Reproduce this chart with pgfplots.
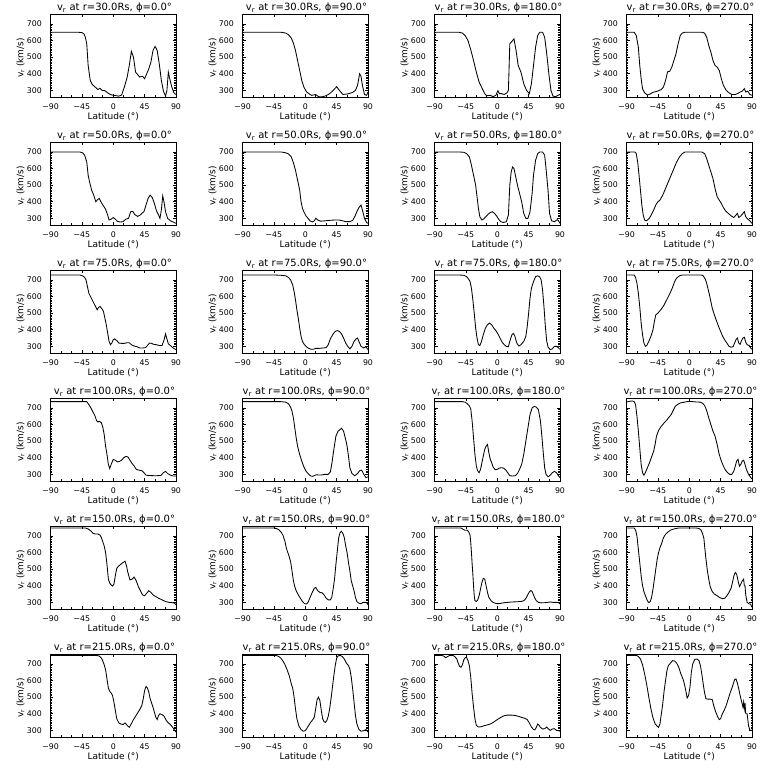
\documentclass[border=0pt]{standalone}
\usepackage{fontspec}
\setmainfont{DejaVu Sans}
\usepackage{pgfplots}
\pgfplotsset{compat=1.18}
\pgfplotsset{panel/.style={
  scale only axis, width=125.5pt, height=83pt, anchor=south west,
  xmin=-90, xmax=90, ymin=260, ymax=760,
  xtick={-90,-45,0,45,90}, xticklabels={−90,−45,0,45,90},
  ytick={300,400,500,600,700},
  minor x tick num=2, minor y tick num=9,
  tick align=inside, major tick length=3pt, minor tick length=1.5pt,
  axis line style={line width=0.8pt}, every tick/.style={black, line width=0.6pt},
  /pgf/number format/assume math mode=true,
  tick label style={font=\fontsize{7.8}{9}\selectfont, inner sep=0pt},
  xticklabel style={yshift=-6.5pt},
  yticklabel style={xshift=-8.5pt},
  xlabel={Latitude (°)}, ylabel={v\textsubscript{r} (km/s)},
  xlabel style={font=\fontsize{9}{10}\selectfont, at={(axis description cs:0.5,0)}, anchor=north, yshift=-15pt, inner sep=0pt},
  ylabel style={font=\fontsize{9}{10}\selectfont, at={(axis description cs:-0.205,0.47)}, anchor=south, inner sep=0pt},
  every axis title shift=0pt,
  title style={font=\fontsize{10}{12}\selectfont, at={(axis description cs:0.51,1)}, anchor=base, yshift=3.2pt, inner sep=0pt},
}}
\newcommand{\panel}[4]{%
\pgfmathsetmacro\px{50.5+192*#1}\pgfmathsetmacro\py{671-128*#2}%
\begin{axis}[panel, at={(\px pt,\py pt)}, title={#3}]
\addplot[black, line width=0.85pt] coordinates {#4};
\end{axis}}
\begin{document}
\begin{tikzpicture}
\path[use as bounding box] (0pt,0pt) rectangle (768pt,768pt);
% row 0 r=30
\panel{0}{0}{v\textsubscript{r} at r=30.0Rs, ϕ=0.0°}{(-90,650)(-50,650)(-45,648)(-42,640)(-40,620)(-38,580)(-36,450)(-33,360)(-30,335)(-26,320)(-22,305)(-19,312)(-16,300)(-12,298)(-8,285)(-4,275)(0,270)(4,268)(8,265)(12,272)(16,320)(20,380)(23,450)(26,535)(29,500)(32,410)(35,395)(38,380)(42,385)(45,370)(48,400)(51,430)(54,470)(57,540)(60,565)(63,540)(66,460)(69,360)(72,295)(75,265)(77,300)(79,410)(81,370)(84,320)(87,285)(90,275)}
\panel{1}{0}{v\textsubscript{r} at r=30.0Rs, ϕ=90.0°}{(-90,650)(-35,650)(-28,645)(-24,635)(-20,615)(-17,585)(-14,540)(-11,480)(-8,420)(-5,360)(-2,320)(2,290)(6,278)(9,270)(12,272)(15,275)(18,265)(21,260)(25,262)(30,268)(35,280)(40,300)(45,322)(49,300)(54,275)(60,278)(64,282)(68,288)(72,300)(75,330)(78,400)(80,385)(82,330)(85,275)(88,270)(90,290)}
\panel{2}{0}{v\textsubscript{r} at r=30.0Rs, ϕ=180.0°}{(-90,650)(-55,650)(-50,645)(-46,630)(-42,600)(-38,545)(-34,480)(-30,410)(-26,350)(-22,315)(-18,280)(-15,268)(-10,270)(-6,262)(-2,270)(1,298)(3,280)(6,280)(10,275)(14,285)(16,300)(18,580)(21,595)(24,610)(27,540)(30,450)(34,410)(38,340)(42,300)(46,280)(49,340)(52,450)(55,560)(58,630)(61,650)(65,650)(68,620)(71,520)(74,400)(77,300)(80,265)(84,262)(87,270)(90,275)}
\panel{3}{0}{v\textsubscript{r} at r=30.0Rs, ϕ=270.0°}{(-90,650)(-79,650)(-76,630)(-73,560)(-71,450)(-69,370)(-67,310)(-64,285)(-60,272)(-56,278)(-52,288)(-48,292)(-44,298)(-40,305)(-37,320)(-34,360)(-31,412)(-28,415)(-25,440)(-22,480)(-19,520)(-16,580)(-13,630)(-10,645)(-6,650)(18,650)(22,645)(25,620)(28,570)(31,530)(34,480)(37,450)(40,440)(43,420)(46,370)(49,330)(53,300)(57,285)(61,275)(66,275)(70,282)(73,290)(76,295)(79,310)(81,290)(84,295)(87,275)(90,270)}
% row 1 r=50
\panel{0}{1}{v\textsubscript{r} at r=50.0Rs, ϕ=0.0°}{(-90,700)(-48,700)(-44,695)(-41,680)(-38,640)(-36,560)(-34,520)(-31,470)(-28,440)(-25,400)(-22,415)(-20,420)(-17,395)(-14,375)(-11,355)(-8,320)(-6,290)(-3,295)(0,305)(3,295)(6,282)(10,278)(14,280)(18,295)(22,300)(25,340)(28,342)(31,322)(35,312)(38,318)(41,330)(44,340)(47,380)(50,420)(53,440)(56,425)(59,390)(62,345)(65,320)(67,300)(69,350)(71,435)(73,395)(75,340)(78,300)(82,285)(86,278)(90,270)}
\panel{1}{1}{v\textsubscript{r} at r=50.0Rs, ϕ=90.0°}{(-90,700)(-35,700)(-28,695)(-24,688)(-20,670)(-17,635)(-14,590)(-11,530)(-8,470)(-6,400)(-4,360)(-2,340)(1,315)(4,300)(7,285)(10,278)(13,285)(15,300)(18,290)(22,283)(28,285)(35,288)(42,290)(48,290)(53,286)(58,280)(64,280)(68,288)(71,310)(74,340)(77,365)(80,380)(82,350)(85,300)(88,275)(90,270)}
\panel{2}{1}{v\textsubscript{r} at r=50.0Rs, ϕ=180.0°}{(-90,700)(-55,700)(-48,698)(-44,690)(-40,670)(-37,620)(-34,560)(-31,500)(-29,430)(-27,360)(-25,310)(-22,290)(-19,298)(-16,312)(-13,325)(-10,335)(-7,340)(-4,330)(-1,315)(2,295)(5,280)(9,275)(13,280)(16,320)(18,500)(20,580)(22,610)(24,600)(26,560)(29,500)(32,450)(35,400)(38,330)(41,300)(44,300)(47,340)(50,450)(52,560)(55,650)(58,690)(61,700)(65,700)(68,680)(70,600)(73,460)(75,330)(78,285)(82,280)(86,292)(88,285)(90,270)}
\panel{3}{1}{v\textsubscript{r} at r=50.0Rs, ϕ=270.0°}{(-90,700)(-78,700)(-76,690)(-74,640)(-72,560)(-70,470)(-68,380)(-66,320)(-64,290)(-62,285)(-60,290)(-57,302)(-54,325)(-51,350)(-48,380)(-45,400)(-42,410)(-38,440)(-34,480)(-30,520)(-26,560)(-22,600)(-18,640)(-14,670)(-10,690)(-6,700)(18,700)(22,690)(25,660)(28,620)(31,580)(34,540)(37,480)(40,430)(43,410)(46,390)(49,365)(52,345)(56,330)(60,315)(64,305)(67,320)(69,330)(71,305)(74,315)(77,330)(79,340)(81,310)(84,295)(87,285)(90,270)}
% row 2 r=75
\panel{0}{2}{v\textsubscript{r} at r=75.0Rs, ϕ=0.0°}{(-90,730)(-48,730)(-44,725)(-41,715)(-39,700)(-37,660)(-35,620)(-32,595)(-29,570)(-26,545)(-23,520)(-21,535)(-19,540)(-16,525)(-14,510)(-12,470)(-10,430)(-8,380)(-6,330)(-4,310)(-2,320)(0,340)(2,345)(5,335)(8,320)(12,318)(16,318)(20,322)(23,322)(26,310)(30,302)(34,298)(38,290)(42,290)(46,292)(49,305)(52,320)(55,318)(58,312)(62,310)(66,305)(70,305)(73,340)(75,375)(77,345)(79,315)(82,305)(86,290)(90,280)}
\panel{1}{2}{v\textsubscript{r} at r=75.0Rs, ϕ=90.0°}{(-90,730)(-45,730)(-35,728)(-28,725)(-24,715)(-21,700)(-18,670)(-16,630)(-14,580)(-12,520)(-10,470)(-8,410)(-6,360)(-4,330)(-2,315)(1,300)(4,290)(8,283)(12,283)(15,288)(20,288)(25,290)(30,292)(33,310)(36,345)(40,375)(43,390)(46,395)(49,390)(52,375)(55,350)(58,320)(61,300)(64,285)(67,300)(70,330)(73,345)(75,350)(77,330)(80,300)(84,290)(87,298)(90,280)}
\panel{2}{2}{v\textsubscript{r} at r=75.0Rs, ϕ=180.0°}{(-90,730)(-55,730)(-48,728)(-44,720)(-41,705)(-39,690)(-37,650)(-35,580)(-33,500)(-31,410)(-29,350)(-27,310)(-25,305)(-23,325)(-20,370)(-17,410)(-14,430)(-11,440)(-8,430)(-5,410)(-2,395)(1,375)(4,350)(7,325)(10,310)(13,300)(16,298)(18,330)(21,370)(23,378)(25,365)(28,320)(31,302)(34,310)(38,330)(41,360)(43,420)(45,500)(47,590)(49,650)(52,690)(55,720)(58,725)(61,718)(63,700)(65,640)(67,540)(69,420)(71,330)(73,295)(76,280)(79,285)(82,300)(85,300)(88,290)(90,282)}
\panel{3}{2}{v\textsubscript{r} at r=75.0Rs, ϕ=270.0°}{(-90,730)(-79,730)(-77,715)(-75,680)(-73,620)(-71,540)(-69,440)(-67,370)(-65,320)(-63,300)(-61,305)(-58,330)(-55,360)(-52,400)(-50,450)(-48,490)(-45,500)(-42,515)(-39,530)(-36,550)(-33,575)(-30,600)(-27,625)(-24,655)(-21,690)(-18,712)(-14,725)(-10,730)(17,730)(20,725)(23,705)(25,680)(27,645)(29,610)(31,570)(33,530)(36,490)(39,455)(42,420)(45,390)(48,360)(51,338)(54,320)(57,300)(60,295)(63,298)(65,320)(67,340)(69,350)(71,320)(73,312)(75,335)(77,350)(79,355)(81,325)(83,310)(86,305)(88,290)(90,282)}
% row 3 r=100
\panel{0}{3}{v\textsubscript{r} at r=100.0Rs, ϕ=0.0°}{(-90,738)(-38,738)(-35,720)(-32,700)(-29,675)(-26,650)(-24,625)(-22,615)(-20,620)(-17,610)(-15,585)(-13,540)(-11,470)(-9,420)(-7,360)(-5,335)(-3,360)(0,390)(3,385)(6,375)(9,378)(12,385)(15,400)(18,408)(21,405)(24,385)(27,365)(30,350)(33,330)(37,325)(41,322)(44,310)(47,295)(52,293)(58,292)(63,292)(68,293)(72,310)(75,318)(78,305)(82,295)(86,290)(90,290)}
\panel{1}{3}{v\textsubscript{r} at r=100.0Rs, ϕ=90.0°}{(-90,738)(-35,738)(-28,735)(-24,725)(-21,705)(-19,680)(-17,640)(-15,580)(-13,520)(-11,470)(-8,420)(-5,380)(-2,345)(1,320)(4,305)(7,292)(10,288)(13,292)(16,298)(19,296)(23,296)(28,300)(33,300)(36,315)(38,360)(41,450)(44,530)(47,560)(50,570)(52,578)(55,560)(58,510)(60,470)(62,410)(64,340)(67,305)(71,292)(75,305)(78,322)(81,325)(84,300)(87,280)(90,285)}
\panel{2}{3}{v\textsubscript{r} at r=100.0Rs, ϕ=180.0°}{(-90,738)(-50,738)(-46,735)(-43,725)(-40,712)(-38,695)(-36,620)(-34,520)(-32,420)(-30,350)(-28,320)(-26,310)(-24,330)(-22,370)(-20,410)(-18,450)(-16,470)(-14,480)(-12,430)(-10,390)(-8,370)(-6,345)(-3,328)(0,330)(3,338)(6,340)(9,338)(12,328)(15,310)(18,292)(22,290)(26,292)(29,305)(32,330)(35,360)(38,420)(41,500)(44,580)(47,660)(50,700)(53,710)(56,705)(59,690)(62,620)(64,530)(66,430)(68,340)(70,300)(73,285)(76,295)(79,310)(82,318)(85,310)(88,290)(90,280)}
\panel{3}{3}{v\textsubscript{r} at r=100.0Rs, ϕ=270.0°}{(-90,735)(-86,740)(-82,742)(-79,738)(-77,720)(-75,650)(-73,560)(-71,460)(-69,360)(-67,310)(-65,295)(-63,310)(-60,340)(-57,370)(-54,405)(-51,440)(-49,480)(-47,530)(-44,565)(-41,585)(-38,600)(-35,615)(-32,628)(-29,645)(-26,660)(-23,685)(-20,710)(-17,720)(-13,730)(-7,735)(-3,738)(0,740)(5,738)(10,736)(16,735)(19,728)(22,715)(24,695)(26,670)(28,640)(31,600)(34,560)(37,530)(40,480)(43,420)(46,380)(49,350)(52,325)(55,310)(58,300)(61,300)(64,320)(66,350)(68,380)(70,390)(72,350)(74,360)(76,380)(78,385)(80,360)(82,330)(85,300)(88,282)(90,272)}
% row 4 r=150
\panel{0}{4}{v\textsubscript{r} at r=150.0Rs, ϕ=0.0°}{(-90,748)(-40,748)(-36,742)(-32,730)(-29,716)(-26,712)(-22,712)(-19,705)(-17,690)(-15,665)(-13,640)(-11,600)(-9,530)(-7,440)(-5,415)(-3,405)(-1,398)(1,410)(3,460)(5,505)(8,520)(11,530)(14,540)(17,548)(19,520)(21,480)(24,435)(27,440)(30,452)(33,430)(36,395)(39,370)(42,345)(45,340)(48,355)(51,370)(54,360)(57,345)(61,335)(65,325)(70,315)(75,305)(80,300)(85,298)(88,295)(90,285)}
\panel{1}{4}{v\textsubscript{r} at r=150.0Rs, ϕ=90.0°}{(-90,748)(-45,748)(-41,744)(-38,738)(-35,725)(-32,705)(-29,665)(-27,625)(-25,600)(-23,575)(-21,545)(-19,490)(-17,430)(-15,395)(-13,370)(-10,345)(-7,325)(-4,305)(-1,292)(2,290)(4,300)(7,330)(10,360)(13,385)(15,390)(18,370)(21,360)(24,358)(27,345)(30,325)(33,315)(36,315)(38,330)(40,380)(42,440)(44,530)(46,610)(48,690)(50,720)(52,728)(54,715)(56,690)(58,640)(60,600)(62,540)(64,490)(66,430)(68,400)(70,370)(72,330)(74,305)(77,295)(80,292)(83,300)(86,300)(89,295)(90,285)}
\panel{2}{4}{v\textsubscript{r} at r=150.0Rs, ϕ=180.0°}{(-90,748)(-52,748)(-49,740)(-46,734)(-43,735)(-41,725)(-39,705)(-38,660)(-37,600)(-36,530)(-35,470)(-34,400)(-33,340)(-32,310)(-30,305)(-28,315)(-26,340)(-24,380)(-22,420)(-20,445)(-18,440)(-16,400)(-14,360)(-12,330)(-9,310)(-6,300)(-3,295)(0,292)(5,294)(10,298)(15,300)(20,302)(25,303)(30,304)(35,306)(38,310)(40,318)(42,330)(44,348)(46,362)(48,372)(50,365)(52,345)(54,325)(56,310)(59,300)(63,297)(68,298)(72,300)(76,302)(80,300)(84,300)(88,298)(90,290)}
\panel{3}{4}{v\textsubscript{r} at r=150.0Rs, ϕ=270.0°}{(-90,748)(-79,748)(-77,735)(-75,700)(-73,620)(-71,540)(-69,460)(-67,400)(-65,365)(-62,330)(-60,310)(-58,298)(-56,305)(-54,330)(-52,380)(-50,440)(-48,500)(-46,560)(-44,600)(-42,630)(-40,650)(-37,690)(-34,710)(-31,722)(-27,735)(-22,742)(-15,748)(10,748)(14,745)(17,735)(19,715)(21,685)(22,640)(24,560)(26,490)(28,440)(30,395)(33,365)(36,350)(40,340)(44,328)(48,322)(51,325)(54,340)(57,360)(60,385)(62,420)(64,460)(66,480)(68,470)(70,430)(72,395)(74,410)(76,430)(78,440)(79,400)(80,400)(81,345)(83,300)(86,290)(88,290)(90,270)}
% row 5 r=215
\panel{0}{5}{v\textsubscript{r} at r=215.0Rs, ϕ=0.0°}{(-90,752)(-25,752)(-20,748)(-17,735)(-15,718)(-13,695)(-11,665)(-9,610)(-7,555)(-5,535)(-3,525)(-1,510)(1,470)(3,420)(5,370)(8,345)(11,338)(14,335)(17,345)(20,330)(23,318)(26,340)(29,365)(32,385)(35,405)(38,425)(41,450)(43,490)(45,540)(47,565)(49,555)(51,530)(53,490)(55,465)(57,440)(59,410)(61,380)(63,365)(65,390)(67,400)(70,395)(73,385)(76,360)(79,345)(82,335)(85,320)(88,300)(90,290)}
\panel{1}{5}{v\textsubscript{r} at r=215.0Rs, ϕ=90.0°}{(-90,752)(-42,752)(-38,745)(-35,735)(-32,718)(-29,695)(-26,665)(-23,630)(-20,580)(-18,555)(-16,500)(-14,430)(-12,370)(-9,325)(-6,305)(-3,295)(0,298)(2,310)(5,330)(8,350)(11,365)(13,380)(15,430)(17,485)(19,500)(21,480)(23,420)(25,370)(27,352)(29,348)(31,360)(33,385)(35,430)(37,490)(39,560)(41,630)(43,690)(45,735)(47,748)(50,752)(53,745)(56,730)(59,705)(62,690)(64,670)(66,620)(68,550)(70,470)(72,390)(74,340)(77,305)(80,295)(84,298)(87,305)(90,290)}
\panel{2}{5}{v\textsubscript{r} at r=215.0Rs, ϕ=180.0°}{(-90,752)(-80,752)(-77,748)(-74,738)(-71,745)(-68,752)(-64,752)(-61,745)(-58,730)(-56,705)(-54,685)(-52,680)(-50,695)(-48,725)(-46,738)(-44,740)(-42,720)(-40,690)(-38,620)(-36,520)(-34,440)(-32,370)(-30,330)(-27,320)(-23,322)(-19,328)(-15,332)(-10,338)(-5,350)(0,365)(5,378)(10,388)(15,392)(20,392)(25,390)(30,385)(35,378)(40,372)(43,365)(46,345)(49,320)(52,305)(54,303)(56,318)(58,338)(60,330)(62,318)(65,308)(68,310)(71,320)(73,310)(76,300)(79,308)(82,310)(85,300)(88,298)(90,295)}
\panel{3}{5}{v\textsubscript{r} at r=215.0Rs, ϕ=270.0°}{(-90,752)(-76,752)(-73,745)(-70,730)(-67,695)(-64,640)(-61,575)(-58,500)(-55,430)(-52,375)(-49,340)(-46,325)(-44,318)(-42,340)(-40,400)(-38,460)(-36,540)(-34,600)(-32,660)(-30,690)(-27,705)(-24,720)(-21,718)(-18,705)(-15,680)(-12,640)(-9,610)(-7,580)(-5,540)(-3,495)(-1,510)(1,560)(3,650)(5,700)(8,728)(11,730)(14,720)(16,690)(18,640)(20,580)(22,525)(24,490)(27,488)(30,488)(33,485)(35,450)(38,410)(41,380)(43,365)(45,370)(47,395)(50,420)(53,450)(56,490)(59,530)(62,565)(65,605)(67,610)(69,585)(71,550)(73,510)(75,475)(77,440)(78,470)(79,430)(80,465)(81,400)(83,400)(85,330)(87,300)(90,300)}
\end{tikzpicture}
\end{document}
